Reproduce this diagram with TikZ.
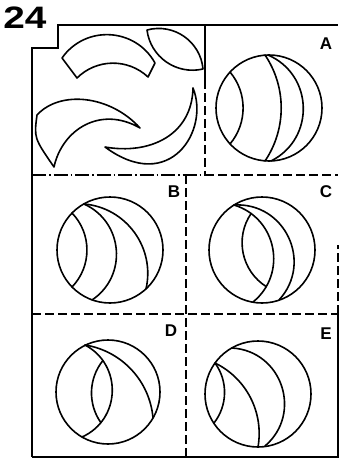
\documentclass[tikz,border=0pt]{standalone}
\usepackage{fontspec}
\setmainfont{Liberation Sans}
\usetikzlibrary{calc}

\begin{document}
\begin{tikzpicture}[x=1pt, y=-1pt,
    frame/.style={line width=1.3pt},
    dashframe/.style={frame, dash pattern=on 9pt off 4pt},
    dotframe/.style={frame, dash pattern=on 14pt off 3pt on 1.5pt off 3pt},
    piece/.style={line width=1.6pt, line join=round, line cap=round},
    tag/.style={font=\fontsize{17}{17}\selectfont\bfseries, inner sep=0pt},
    arcto/.style={to path={.. controls ($(\tikztostart)!{2/(3*(1+cos(#1)))}!#1:(\tikztotarget)$)
        and ($(\tikztotarget)!{2/(3*(1+cos(#1)))}!{0-(#1)}:(\tikztostart)$) .. (\tikztotarget) \tikztonodes}}]
  \useasboundingbox (0,0) rectangle (340,460);
  % frame of the sheet
  \draw[frame] (32,457) -- (32,48) -- (58,48) -- (58,25) -- (338,25);
  \draw[frame] (32,457) -- (338,457) -- (338,314);
  \draw[dashframe] (338,314) -- (338,245);
  \draw[frame] (205,25) -- (205,80);
  \draw[dashframe] (205,80) -- (205,175);
  \draw[dotframe] (32,175) -- (205,175);
  \draw[dashframe] (205,175) -- (338,175);
  \draw[dashframe] (186,175) -- (186,457);
  \draw[dashframe] (32,314) -- (338,314);
  \node[font=\fontsize{31}{31}\selectfont\bfseries, xscale=1.25, inner sep=0pt] (num) at (25,18) {24};
  \foreach \lab/\px/\py in {A/326/44, B/174/192, C/326/192, D/171/331, E/326/334}
    \node[tag] (lab\lab) at (\px,\py) {\lab};
  % the loose pieces
  \draw[piece] (62,58) to[arcto=58] (155,63) -- (148,77) to[arcto=-44] (77,78) -- cycle;
  \draw[piece] (147,30) to[arcto=50] (203,69) to[arcto=48] (147,30);
  \draw[piece] (140,128) .. controls (110,95) and (60,90) .. (37,115)
    .. controls (34,138) .. (54,167) .. controls (62,130) and (100,105) .. (140,128);
  \draw[piece] (193,88) .. controls (210,130) and (170,195) .. (105,147)
    .. controls (150,155) and (192,135) .. (193,88);
  % the answers
  \foreach \nm/\px/\py/\r in {A/269/108/53, B/110/250/53, C/262/250/53, D/108/392/52, E/258/394/53}
    \draw[piece] (\px,\py) coordinate (c\nm) circle (\r);
  % A
  \draw[piece] (230,72) to[arcto=40] (230,144);
  \draw[piece] (265,55) to[arcto=34] (265,161);
  \draw[piece] (268,55) to[arcto=65] (271,161);
  % B
  \draw[piece] (72,213) to[arcto=44] (72,287);
  \draw[piece] (84,204) to[arcto=61] (92,300);
  \draw[piece] (84,204) to[arcto=49] (146,289);
  % C
  \draw[piece] (234,205) to[arcto=68] (279,300);
  \draw[piece] (234,205) to[arcto=62] coordinate[pos=0.15] (ca) coordinate[pos=0.84] (cb) (253,302);
  \draw[piece] (ca) to[arcto=-46] (cb);
  % D
  \draw[piece] (85,345) to[arcto=64] coordinate[pos=0.2] (da) coordinate[pos=0.8] (db) (82,437);
  \draw[piece] (da) to[arcto=-37] (db);
  \draw[piece] (85,345) to[arcto=38] (153,418);
  % E
  \draw[piece] (215,363) to[arcto=37] (214,423);
  \draw[piece] (215,363) to[arcto=37] (258,447);
  \draw[piece] (232,348) to[arcto=68] (265,446);
\end{tikzpicture}
\end{document}
